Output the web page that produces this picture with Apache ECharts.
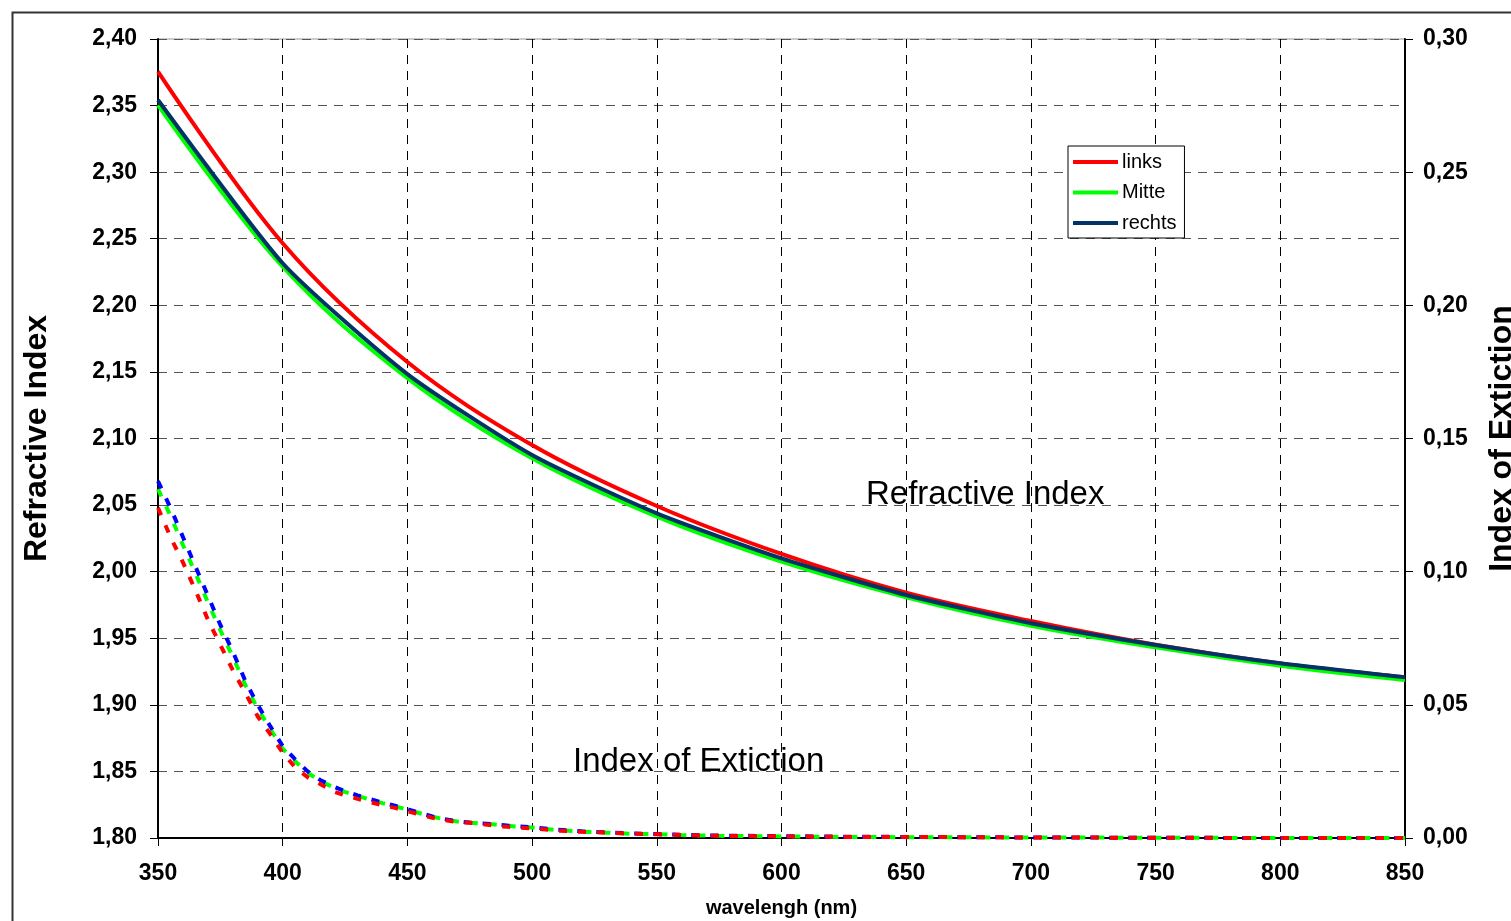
<!DOCTYPE html>
<html>
<head>
	<meta charset="utf-8">
	<title>Refractive Index</title>
	<script src="https://cdn.jsdelivr.net/npm/echarts@6/dist/echarts.min.js"></script>
	<style>
		html, body { margin: 0; padding: 0; background: #fff; overflow: hidden; }
	</style>
</head>
<body>
	<div id="main" style="width:1511px;height:921px"></div>
	<script type="text/javascript">
// wavelengths (nm) for the refractive index curves
var wlN = [350, 400, 450, 500, 550, 600, 650, 700, 750, 800, 850];
var nLinks  = [2.3755, 2.2466, 2.1574, 2.0951, 2.0493, 2.0133, 1.9842, 1.9630, 1.9452, 1.9311, 1.9206];
var nMitte  = [2.3504, 2.2290, 2.1454, 2.0851, 2.0413, 2.0075, 1.9808, 1.9594, 1.9432, 1.9294, 1.9187];
var nRechts = [2.3542, 2.2316, 2.1484, 2.0876, 2.0438, 2.0100, 1.9825, 1.9613, 1.9450, 1.9312, 1.9207];

// wavelengths (nm) for the extinction curves
var wlK = [350, 355, 360, 365, 370, 375, 380, 385, 390, 395, 400, 405, 410, 415, 420, 425, 430, 435, 440, 445,
           450, 455, 460, 465, 470, 475, 480, 485, 490, 495, 500, 510, 520, 530, 540, 550, 560, 575, 600, 625,
           650, 700, 750, 800, 850];
var kLinks  = [0.1240, 0.1130, 0.1035, 0.0930, 0.0820, 0.0725, 0.0630, 0.0545, 0.0456, 0.0390, 0.0320, 0.0265, 0.0228, 0.0203, 0.0176,
               0.0160, 0.0147, 0.0135, 0.0123, 0.0113, 0.0101, 0.0088, 0.0076, 0.0067, 0.0060, 0.0057, 0.0052, 0.0046, 0.0042, 0.0039,
               0.0036, 0.0028, 0.0023, 0.0020, 0.0016, 0.0014, 0.0011, 0.0008, 0.0006, 0.0004, 0.0004, 0.0002, 0.0001, 0.0000, 0.0000];
var kMitte  = [0.1310, 0.1210, 0.1100, 0.0995, 0.0885, 0.0780, 0.0680, 0.0575, 0.0485, 0.0410, 0.0335, 0.0288, 0.0245, 0.0214, 0.0192,
               0.0173, 0.0158, 0.0144, 0.0131, 0.0119, 0.0106, 0.0093, 0.0080, 0.0070, 0.0062, 0.0057, 0.0054, 0.0051, 0.0046, 0.0042,
               0.0039, 0.0030, 0.0024, 0.0020, 0.0016, 0.0014, 0.0011, 0.0008, 0.0006, 0.0004, 0.0003, 0.0002, 0.0001, 0.0000, 0.0000];
var kRechts = [0.1340, 0.1240, 0.1130, 0.1020, 0.0910, 0.0800, 0.0700, 0.0590, 0.0500, 0.0420, 0.0345, 0.0295, 0.0250, 0.0218, 0.0195,
               0.0175, 0.0160, 0.0146, 0.0133, 0.0121, 0.0108, 0.0094, 0.0081, 0.0071, 0.0063, 0.0058, 0.0055, 0.0052, 0.0047, 0.0043,
               0.0040, 0.0031, 0.0025, 0.0021, 0.0017, 0.0015, 0.0012, 0.0009, 0.0007, 0.0005, 0.0004, 0.0002, 0.0001, 0.0000, 0.0000];

var seriesNames = ['links', 'Mitte', 'rechts'];

function pairs(xs, ys) {
    return xs.map(function (x, i) { return [x, ys[i]]; });
}
function comma(v) {
    return v.toFixed(2).replace('.', ',');
}

var FONT = 'Liberation Sans, Arial, sans-serif';
var myChart = echarts.init(document.getElementById('main'));

var option = {
    backgroundColor: '#fff',
    animation: false,
    grid: { left: 158, right: 106, top: 39, bottom: 83, outerBoundsMode: 'none',
            show: true, borderColor: '#999', borderWidth: 1 },
    legend: {
        data: seriesNames,
        orient: 'vertical',
        left: 1068, top: 146,
        padding: [5, 8, 4, 5],
        backgroundColor: '#fff',
        borderColor: '#000', borderWidth: 1,
        itemWidth: 45, itemHeight: 4, itemGap: 8.5,
        icon: 'rect',
        textStyle: { fontFamily: FONT, fontSize: 20, color: '#000', lineHeight: 22, padding: [0, 0, 0, -1] }
    },
    xAxis: {
        type: 'value', min: 350, max: 850, interval: 50,
        name: 'wavelengh (nm)', nameLocation: 'middle', nameGap: 60,
        nameTextStyle: { fontFamily: FONT, fontSize: 20, fontWeight: 'bold', color: '#000' },
        axisLine: { lineStyle: { color: '#000', width: 2 } },
        axisTick: { show: true, length: 8, lineStyle: { color: '#000' } },
        axisLabel: { margin: 24, fontFamily: FONT, fontSize: 23, fontWeight: 'bold', color: '#000' },
        splitLine: { show: true, lineStyle: { color: '#000', type: [9, 7], width: 1 } }
    },
    yAxis: [{
        type: 'value', min: 1.80, max: 2.40, interval: 0.05,
        name: 'Refractive Index', nameLocation: 'middle', nameGap: 105, nameRotate: 90,
        nameTextStyle: { fontFamily: FONT, fontSize: 32, fontWeight: 'bold', color: '#000' },
        axisLine: { show: true, lineStyle: { color: '#000', width: 2 } },
        axisTick: { show: true, length: 8, lineStyle: { color: '#000' } },
        axisLabel: { margin: 21, fontFamily: FONT, fontSize: 23, fontWeight: 'bold', color: '#000', formatter: comma },
        splitLine: { show: true, lineStyle: { color: '#555', type: [9, 7], width: 1 } }
    }, {
        type: 'value', min: 0, max: 0.30, interval: 0.05, position: 'right',
        name: 'Index of Extiction', nameLocation: 'middle', nameGap: 81, nameRotate: 90,
        nameTextStyle: { fontFamily: FONT, fontSize: 32, fontWeight: 'bold', color: '#000' },
        axisLine: { show: true, lineStyle: { color: '#000', width: 2 } },
        axisTick: { show: true, length: 8, lineStyle: { color: '#000' } },
        axisLabel: { margin: 18, fontFamily: FONT, fontSize: 23, fontWeight: 'bold', color: '#000', formatter: comma },
        splitLine: { show: false }
    }],
    graphic: [
        { type: 'rect', left: 10, top: 10, silent: true, z: -1,
          shape: { width: 1600, height: 1000 }, style: { fill: 'none', stroke: '#333', lineWidth: 2 } },
        { type: 'text', left: 866, top: 478, style: { text: 'Refractive Index', font: '33px Liberation Sans', fill: '#000' } },
        { type: 'text', left: 573, top: 745, style: { text: 'Index of Extiction', font: '33px Liberation Sans', fill: '#000' } }
    ],
    series: [
        { name: 'k Mitte', type: 'line', yAxisIndex: 1, showSymbol: false, data: pairs(wlK, kMitte),
          lineStyle: { color: '#00ff00', width: 4, type: [8, 11] } },
        { name: 'k rechts', type: 'line', yAxisIndex: 1, showSymbol: false, data: pairs(wlK, kRechts),
          lineStyle: { color: '#0000ff', width: 4, type: [8, 11] } },
        { name: 'k links', type: 'line', yAxisIndex: 1, showSymbol: false, data: pairs(wlK, kLinks),
          lineStyle: { color: '#ff0000', width: 4, type: [8, 11] } },
        { name: 'links', type: 'line', yAxisIndex: 0, showSymbol: false, smooth: 0.35, data: pairs(wlN, nLinks),
          itemStyle: { color: '#ff0000' }, lineStyle: { color: '#ff0000', width: 4 } },
        { name: 'Mitte', type: 'line', yAxisIndex: 0, showSymbol: false, smooth: 0.35, data: pairs(wlN, nMitte),
          itemStyle: { color: '#00ff00' }, lineStyle: { color: '#00ff00', width: 4 } },
        { name: 'rechts', type: 'line', yAxisIndex: 0, showSymbol: false, smooth: 0.2, data: pairs(wlN, nRechts),
          itemStyle: { color: '#003366' }, lineStyle: { color: '#003366', width: 4 } }
    ]
};

myChart.setOption(option);
	</script>
</body>
</html>
